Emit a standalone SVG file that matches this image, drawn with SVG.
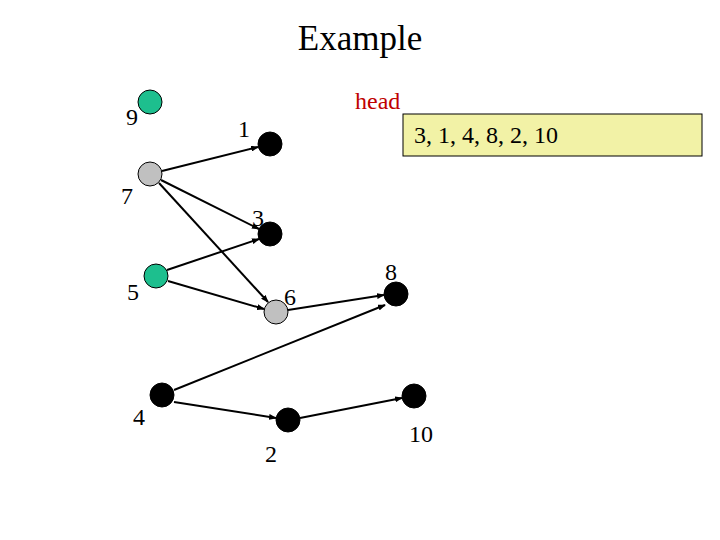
<svg xmlns="http://www.w3.org/2000/svg" width="720" height="540" viewBox="0 0 720 540">
<style>
text{font-family:"Liberation Serif","Times New Roman",serif;fill:#000}
.lbl{font-size:24px}
.n{stroke:#000;stroke-width:1}
.green{fill:#1DBF8E}
.gray{fill:#C0C0C0}
.black{fill:#000}
.e{stroke:#000;stroke-width:2;fill:none;marker-end:url(#ah)}
</style>
<defs>
<marker id="ah" markerWidth="8" markerHeight="6" refX="7" refY="3" orient="auto" markerUnits="userSpaceOnUse">
<path d="M0,0 L8,3 L0,6 z" fill="#000"/>
</marker>
</defs>
<rect width="720" height="540" fill="#fff"/>
<text x="360" y="50" font-size="35" text-anchor="middle">Example</text>
<g id="connectors">
<line class="e" x1="162" y1="171" x2="258" y2="147"/>
<line class="e" x1="161" y1="180" x2="259" y2="229"/>
<line class="e" x1="159" y1="183" x2="268" y2="302"/>
<line class="e" x1="167" y1="270" x2="259" y2="239"/>
<line class="e" x1="168" y1="281" x2="264" y2="309"/>
<line class="e" x1="288" y1="310" x2="384" y2="295"/>
<line class="e" x1="174" y1="390" x2="385" y2="305"/>
<line class="e" x1="174" y1="402" x2="276" y2="418"/>
<line class="e" x1="300" y1="418" x2="402" y2="398"/>
</g>
<g id="node9"><circle class="n green" cx="150" cy="102" r="12"/><text class="lbl" x="126" y="125">9</text></g>
<g id="node1"><circle class="n black" cx="270" cy="144" r="12"/><text class="lbl" x="238" y="137">1</text></g>
<g id="node7"><circle class="n gray" cx="150" cy="174" r="12"/><text class="lbl" x="121" y="204">7</text></g>
<g id="node3"><circle class="n black" cx="270" cy="234" r="12"/><text class="lbl" x="252" y="226">3</text></g>
<g id="node5"><circle class="n green" cx="156" cy="276" r="12"/><text class="lbl" x="127" y="300">5</text></g>
<g id="node6"><circle class="n gray" cx="276" cy="312" r="12"/><text class="lbl" x="284" y="305">6</text></g>
<g id="node8"><circle class="n black" cx="396" cy="294" r="12"/><text class="lbl" x="385" y="280">8</text></g>
<g id="node4"><circle class="n black" cx="162" cy="395" r="12"/><text class="lbl" x="133" y="425">4</text></g>
<g id="node2"><circle class="n black" cx="288" cy="420" r="12"/><text class="lbl" x="265" y="462">2</text></g>
<g id="node10"><circle class="n black" cx="414" cy="396" r="12"/><text class="lbl" x="409" y="442">10</text></g>
<g id="head">
<text x="355" y="109" font-size="24" style="fill:#C00000">head</text>
<rect x="403" y="114" width="299" height="42" fill="#F2F2A6" stroke="#000" stroke-width="1"/>
<text class="lbl" x="414" y="143">3, 1, 4, 8, 2, 10</text>
</g>
</svg>
